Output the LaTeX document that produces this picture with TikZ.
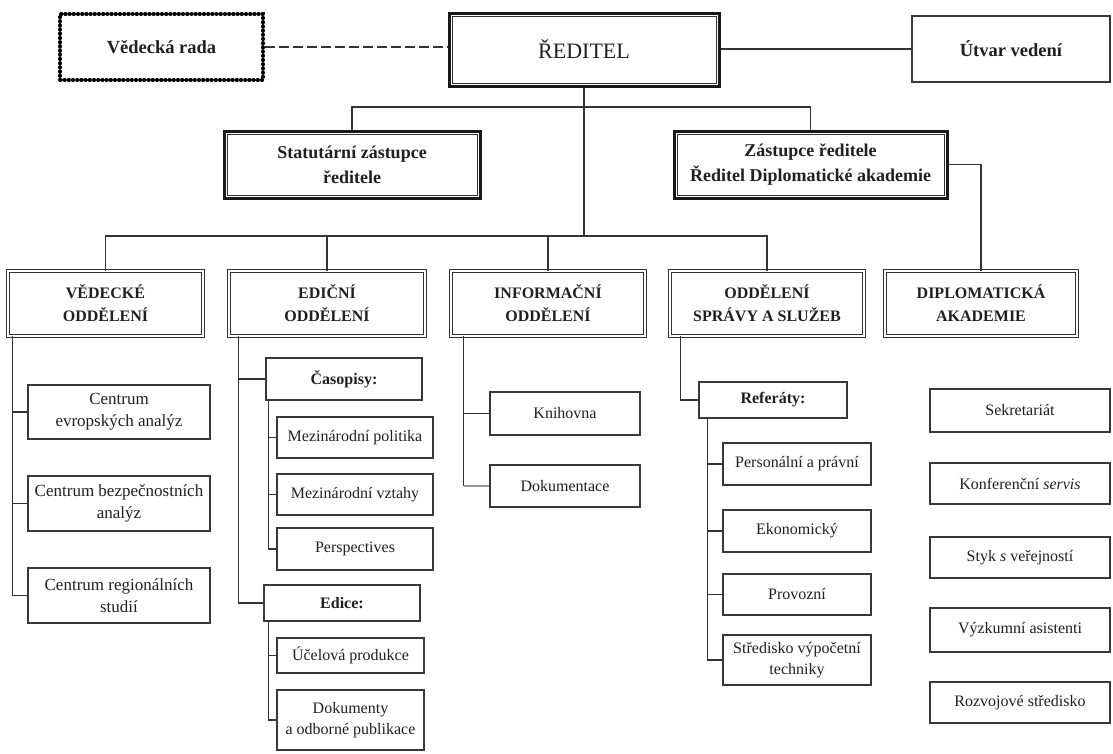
\documentclass[tikz,border=0pt]{standalone}
\usepackage{fontspec}
\setmainfont{Liberation Serif}
\newcommand\ftop{\fontsize{18.5}{24}\selectfont\bfseries}
\newcommand\fsub{\fontsize{16}{21}\selectfont}
\newcommand\fcen{\fontsize{17}{22}\selectfont}
\newcommand\myinner[1]{\draw[black!80, line width=0.8pt] ([shift={(4.5,4.5)}]#1.north west) rectangle ([shift={(-4.5,-4.5)}]#1.south east);}
\begin{document}
\begin{tikzpicture}[x=1pt,y=-1pt,
  every node/.style={inner sep=0pt, align=center, text=black!88},
  sz/.style 2 args={minimum width=#1pt, minimum height=#2pt},
  ln/.style={draw=black!80, line width=1.2pt},
  box/.style={draw=black!78, line width=1.3pt, rectangle},
  dotbox/.style={draw=black, line width=3.4pt, line cap=round, dash pattern=on 0.8pt off 3.4pt, rectangle},
  thickbox/.style={draw=black!90, line width=3pt, rectangle},
  dept/.style={draw=black!80, double=white, double distance=1.4pt, line width=0.9pt, rectangle, font=\fontsize{16}{23}\selectfont\bfseries},
  sub/.style={box, font=\fsub},
  head/.style={box, font=\fsub\bfseries}
]
\useasboundingbox (0,0) rectangle (1113,753);

% top row
\node[dotbox, sz={203}{66}, font=\ftop] (VR) at (161.5,47) {Vědecká rada};
\node[thickbox, sz={270}{73}, font=\fontsize{22}{26}\selectfont] (RED) at (584,49.5) {ŘEDITEL};
\myinner{RED}
\node[box, sz={198}{66}, font=\ftop] (UV) at (1011,49) {Útvar vedení};
\draw[ln, dash pattern=on 10pt off 4pt] (VR.east) -- (VR.east -| RED.west);
\draw[ln] (UV.west) -- (UV.west -| RED.east);

% deputies
\node[thickbox, sz={256}{67}, font=\fontsize{18}{25}\selectfont\bfseries] (ST) at (352,164.5) {Statutární zástupce\\ředitele};
\myinner{ST}
\node[thickbox, sz={273}{67}, font=\fontsize{18}{25}\selectfont\bfseries] (ZA) at (810.5,164.5) {Zástupce ředitele\\Ředitel Diplomatické akademie};
\myinner{ZA}
\draw[ln] (RED.south) -- (RED.south |- 0,236);
\draw[ln] (ST.north) -- (ST.north |- 0,107) -- (ZA.north |- 0,107) -- (ZA.north);

% departments
\node[dept, sz={195}{65}] (VED) at (105.5,303.5) {VĚDECKÉ\\ODDĚLENÍ};
\node[dept, sz={196}{65}] (EDI) at (327,303.5) {EDIČNÍ\\ODDĚLENÍ};
\node[dept, sz={194}{65}] (INF) at (548,303.5) {INFORMAČNÍ\\ODDĚLENÍ};
\node[dept, sz={194}{65}] (SPR) at (767,303.5) {ODDĚLENÍ\\SPRÁVY A SLUŽEB};
\node[dept, sz={192}{65}] (DIP) at (981,303.5) {DIPLOMATICKÁ\\AKADEMIE};
\draw[ln] (VED.north) -- (VED.north |- 0,236) -- (SPR.north |- 0,236) -- (SPR.north);
\draw[ln] (EDI.north) -- (EDI.north |- 0,236);
\draw[ln] (INF.north) -- (INF.north |- 0,236);
\draw[ln] (ZA.east) -| (DIP.north);

% Vedecke oddeleni
\node[box, font=\fcen, sz={182}{54}] (C1) at (119,412) {Centrum\\evropských analýz};
\node[box, font=\fcen, sz={182}{55}] (C2) at (119,503.5) {Centrum bezpečnostních\\analýz};
\node[box, font=\fcen, sz={182}{55}] (C3) at (119,595.5) {Centrum regionálních\\studií};
\coordinate (vV) at ([xshift=5pt]VED.south west);
\draw[ln] (vV) |- (C3.west);
\draw[ln] (C1.west) -- (C1.west -| vV);
\draw[ln] (C2.west) -- (C2.west -| vV);

% Edicni oddeleni
\node[head, sz={156}{42}] (CA) at (344,379) {Časopisy:};
\node[sub, sz={156}{41}] (MP) at (355,437.5) {Mezinárodní politika};
\node[sub, sz={156}{41}] (MV) at (355,494.5) {Mezinárodní vztahy};
\node[sub, sz={156}{42}] (PE) at (355,549) {Perspectives};
\node[head, sz={156}{36}] (ED) at (342,603) {Edice:};
\node[sub, sz={147}{35}] (UP) at (350.5,655.5) {Účelová produkce};
\node[sub, sz={147}{60}] (DO) at (350.5,720) {Dokumenty\\a odborné publikace};
\coordinate (vE) at ([xshift=10pt]EDI.south west);
\draw[ln] (vE) |- (ED.west);
\draw[ln] (CA.west) -- (CA.west -| vE);
\coordinate (vC) at ([xshift=3pt]CA.south west);
\draw[ln] (vC) |- (PE.west);
\draw[ln] (MP.west) -- (MP.west -| vC);
\draw[ln] (MV.west) -- (MV.west -| vC);
\coordinate (vD) at ([xshift=5pt]ED.south west);
\draw[ln] (vD) |- (DO.west);
\draw[ln] (UP.west) -- (UP.west -| vD);

% Informacni oddeleni
\node[sub, sz={150}{43}] (KN) at (565,413.5) {Knihovna};
\node[sub, sz={150}{42}] (DK) at (565,486) {Dokumentace};
\coordinate (vI) at ([xshift=13pt]INF.south west);
\draw[ln] (vI) -- (vI |- DK.west);
\draw[ln, draw=black!40] (vI |- DK.west) -- (DK.west);
\draw[ln] (KN.west) -- (KN.west -| vI);

% Oddeleni spravy a sluzeb
\node[head, sz={148}{36}] (RF) at (773,400) {Referáty:};
\node[sub, sz={148}{42}] (PP) at (797,464) {Personální a právní};
\node[sub, sz={148}{42}] (EK) at (797,531) {Ekonomický};
\node[sub, sz={148}{41}] (PR) at (797,594.5) {Provozní};
\node[sub, sz={148}{50}] (SV) at (797,660) {Středisko výpočetní\\techniky};
\coordinate (vS) at ([xshift=11pt]SPR.south west);
\draw[ln] (vS) |- (RF.west);
\coordinate (vR) at ([xshift=9pt]RF.south west);
\draw[ln] (vR) |- (SV.west);
\draw[ln] (PP.west) -- (PP.west -| vR);
\draw[ln] (EK.west) -- (EK.west -| vR);
\draw[ln] (PR.west) -- (PR.west -| vR);

% Diplomaticka akademie
\node[sub, sz={180}{43}] (SE) at (1020,410.5) {Sekretariát};
\node[sub, sz={180}{41}] (KO) at (1020,483.5) {Konferenční \textit{servis}};
\node[sub, sz={180}{41}] (SY) at (1020,557.5) {Styk \textit{s} veřejností};
\node[sub, sz={180}{44}] (VY) at (1020,630) {Výzkumní asistenti};
\node[sub, sz={180}{41}] (RO) at (1020,702.5) {Rozvojové středisko};
\end{tikzpicture}
\end{document}
